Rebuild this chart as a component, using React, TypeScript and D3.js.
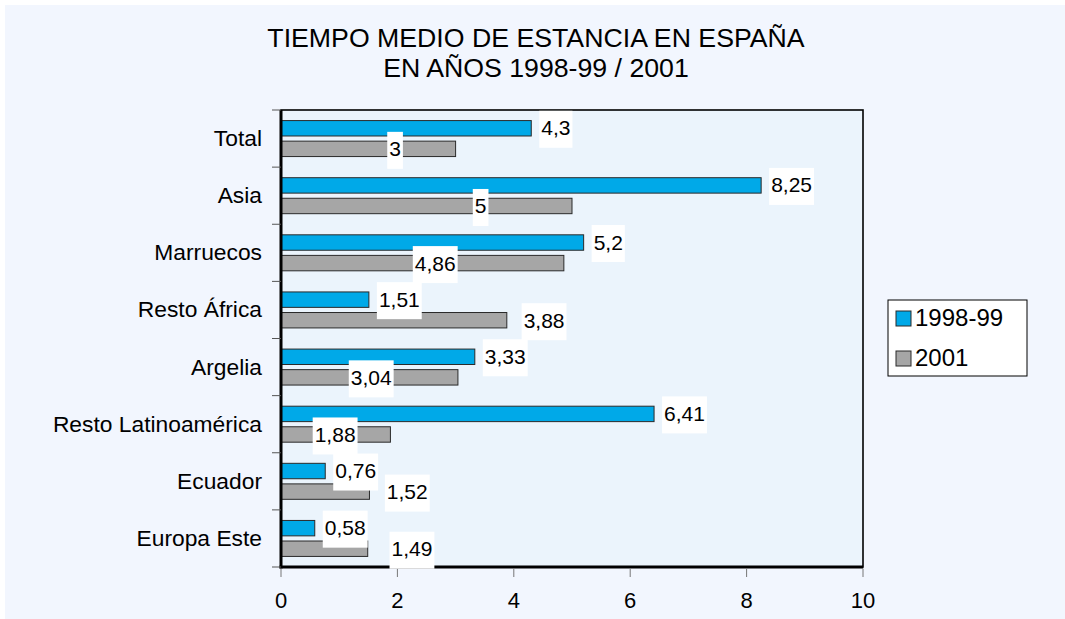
import React from 'react';
import * as d3 from 'd3';

const categories = ['Total', 'Asia', 'Marruecos', 'Resto África', 'Argelia', 'Resto Latinoamérica', 'Ecuador', 'Europa Este'];
const seriesNames = ['1998-99', '2001'];
const values1998 = [4.3, 8.25, 5.2, 1.51, 3.33, 6.41, 0.76, 0.58];
const values2001 = [3, 5, 4.86, 3.88, 3.04, 1.88, 1.52, 1.49];
const labels1998 = ['4,3', '8,25', '5,2', '1,51', '3,33', '6,41', '0,76', '0,58'];
const labels2001 = ['3', '5', '4,86', '3,88', '3,04', '1,88', '1,52', '1,49'];
// where the 2001 data labels sit (in axis units), as placed in the original
const label2001At = [1.96, 3.43, 2.65, 4.52, 1.55, 0.93, 2.17, 2.25];
const xTicks = [0, 2, 4, 6, 8, 10];
const titleLines = ['TIEMPO MEDIO DE ESTANCIA EN ESPAÑA', 'EN AÑOS 1998-99 / 2001'];

const W = 1065;
const H = 619;
const FONT = '"Liberation Sans", Arial, Helvetica, sans-serif';
const BLUE = '#00a9e8';
const GRAY = '#a6a6a6';

const plot = { left: 281, right: 863, top: 110, bottom: 567 };

const charW: Record<string, number> = { ',': 0.278, '-': 0.333 };
function textWidth(s: string, size: number) {
  let w = 0;
  for (const c of s) w += charW[c] ?? 0.556;
  return w * size;
}

export default function App() {
  const x = d3.scaleLinear().domain([0, 10]).range([plot.left, plot.right]);
  const y = d3.scaleBand<string>().domain(categories).range([plot.top, plot.bottom]).padding(0);
  const bw = y.bandwidth();
  const sub = d3.scaleBand<string>().domain(seriesNames).range([bw * 0.185, bw * 0.815]).paddingInner(0.25);
  const sbw = sub.bandwidth();
  const series = [values1998, values2001];
  const colors = [BLUE, GRAY];
  const valueFont = 21;
  const boxH = 37;

  const boundaries = d3.range(categories.length + 1).map((i) => plot.top + i * bw);

  return (
    <svg width={W} height={H} style={{ position: 'absolute', left: 0, top: 0 }} fontFamily={FONT}>
      <rect x={0} y={0} width={W} height={H} fill="#ffffff" />
      <rect x={5} y={5} width={W - 5} height={H - 5} fill="#f2f6fe" />

      {titleLines.map((t, i) => (
        <text key={i} x={536} y={46.7 + i * 30.6} textAnchor="middle" fontSize={26.7} fill="#000">
          {t}
        </text>
      ))}

      <rect
        x={plot.left}
        y={plot.top}
        width={plot.right - plot.left}
        height={plot.bottom - plot.top}
        fill="#ebf4fc"
        stroke="#000"
        strokeWidth={1.6}
      />

      {/* bars */}
      {categories.map((c, i) => (
        <g key={c}>
          {series.map((vals, s) => (
            <rect
              key={s}
              x={x(0)}
              y={(y(c) as number) + (sub(seriesNames[s]) as number)}
              width={x(vals[i]) - x(0)}
              height={sbw}
              fill={colors[s]}
              stroke="#2a2a2a"
              strokeWidth={1}
            />
          ))}
        </g>
      ))}

      {/* axes */}
      <line x1={plot.left} x2={plot.left} y1={plot.top} y2={plot.bottom + 1.5} stroke="#000" strokeWidth={3} />
      <line x1={plot.left - 1.5} x2={plot.right} y1={plot.bottom} y2={plot.bottom} stroke="#000" strokeWidth={3} />
      {boundaries.map((b, i) => (
        <line key={i} x1={272} x2={plot.left} y1={b} y2={b} stroke="#555" strokeWidth={1} />
      ))}
      {xTicks.map((t) => (
        <g key={t}>
          <line x1={x(t)} x2={x(t)} y1={plot.bottom + 1.5} y2={plot.bottom + 10} stroke="#777" strokeWidth={1} />
          <text x={x(t)} y={608} textAnchor="middle" fontSize={22} fill="#000">
            {t}
          </text>
        </g>
      ))}

      {/* category labels */}
      {categories.map((c) => (
        <text key={c} x={262} y={(y(c) as number) + bw / 2 + 7.5} textAnchor="end" fontSize={22.8} fill="#000">
          {c}
        </text>
      ))}

      {/* data labels */}
      {categories.map((c, i) => {
        const y0 = y(c) as number;
        const w1 = textWidth(labels1998[i], valueFont) + 4;
        const cx1 = x(values1998[i]) + 8 + w1 / 2;
        const cy1 = y0 + (sub(seriesNames[0]) as number) + sbw / 2 + 1;
        const w2 = textWidth(labels2001[i], valueFont) + 4;
        const cx2 = x(label2001At[i]);
        const cy2 = y0 + (sub(seriesNames[1]) as number) + sbw / 2 + 1.5;
        return (
          <g key={c}>
            <rect x={cx1 - w1 / 2} y={cy1 - boxH / 2} width={w1} height={boxH} fill="#fff" />
            <text x={cx1} y={cy1 + 6} textAnchor="middle" fontSize={valueFont} fill="#000">
              {labels1998[i]}
            </text>
            <rect x={cx2 - w2 / 2} y={cy2 - boxH / 2} width={w2} height={boxH} fill="#fff" />
            <text x={cx2} y={cy2 + 6} textAnchor="middle" fontSize={valueFont} fill="#000">
              {labels2001[i]}
            </text>
          </g>
        );
      })}

      {/* legend */}
      <rect x={888} y={300} width={139} height={76} fill="#fff" stroke="#000" strokeWidth={1} />
      {seriesNames.map((s, i) => (
        <g key={s}>
          <rect x={896} y={311 + i * 40} width={15} height={15} fill={colors[i]} stroke="#2a2a2a" strokeWidth={1} />
          <text x={915} y={326 + i * 40} fontSize={24} fill="#000">
            {s}
          </text>
        </g>
      ))}
    </svg>
  );
}
